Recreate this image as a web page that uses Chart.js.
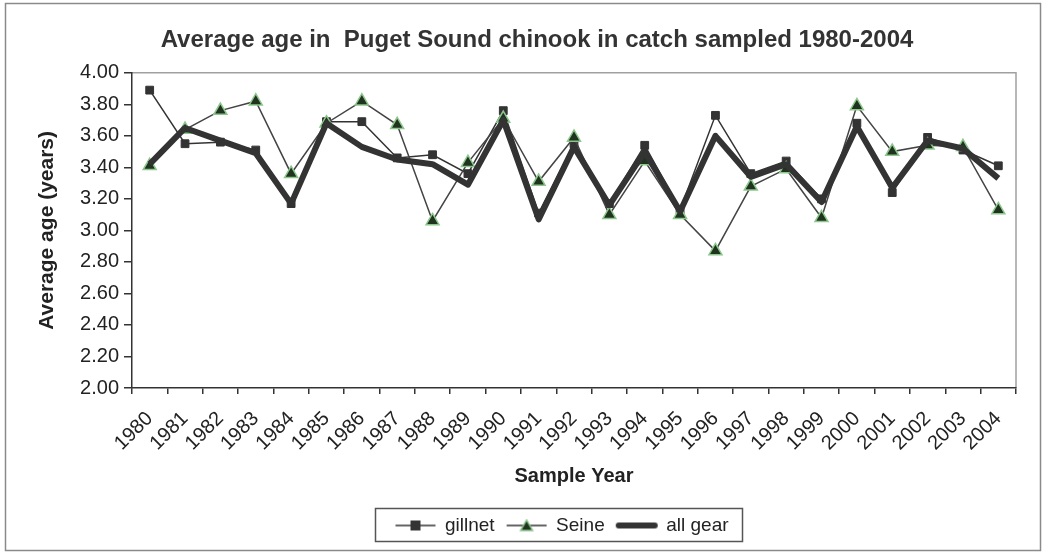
<!DOCTYPE html>
<html>
<head>
<meta charset="utf-8">
<script src="https://cdn.jsdelivr.net/npm/chart.js@4/dist/chart.umd.min.js"></script>
<style>
  html, body { margin: 0; padding: 0; background: #fff; }
  #wrap { width: 1046px; height: 554px; }
</style>
</head>
<body>
<div id="wrap"><canvas id="chart" width="1046" height="554"></canvas></div>
<script>
const years = ['1980', '1981', '1982', '1983', '1984', '1985', '1986', '1987', '1988', '1989', '1990', '1991', '1992',
    '1993', '1994', '1995', '1996', '1997', '1998', '1999', '2000', '2001', '2002', '2003', '2004'];
const gillnet = [3.89, 3.55, 3.56, 3.51, 3.17, 3.69, 3.69, 3.46, 3.48, 3.36, 3.76, 3.11, 3.55,
    3.17, 3.54, 3.13, 3.73, 3.36, 3.44, 3.20, 3.68, 3.24, 3.59, 3.51, 3.41];
const seine = [3.41, 3.64, 3.76, 3.82, 3.36, 3.68, 3.82, 3.67, 3.06, 3.43, 3.71, 3.31, 3.59,
    3.10, 3.44, 3.10, 2.87, 3.28, 3.39, 3.08, 3.79, 3.50, 3.54, 3.53, 3.13];
const allGear = [3.42, 3.65, 3.57, 3.49, 3.17, 3.68, 3.53, 3.45, 3.42, 3.29, 3.70, 3.07, 3.53,
    3.16, 3.50, 3.12, 3.60, 3.34, 3.42, 3.18, 3.66, 3.27, 3.57, 3.52, 3.33];

const ink = '#333333';
const triFill = '#1f331f';
const triEdge = '#8cc68c';
const face = 'Liberation Sans, Arial, sans-serif';

// little line+marker pictures for the legend
function legendIcon(kind) {
    const c = document.createElement('canvas');
    c.width = 44; c.height = 14;
    const g = c.getContext('2d');
    g.strokeStyle = ink;
    if (kind === 'all') {
        g.lineWidth = 6;
        g.lineCap = 'round';
        g.beginPath(); g.moveTo(4, 7); g.lineTo(40, 7); g.stroke();
        return c;
    }
    g.lineWidth = 1.5;
    g.beginPath(); g.moveTo(2, 7); g.lineTo(42, 7); g.stroke();
    if (kind === 'sq') {
        g.fillStyle = ink;
        g.fillRect(17, 2, 10, 10);
    } else {
        g.fillStyle = triFill;
        g.strokeStyle = triEdge;
        g.beginPath(); g.moveTo(22, 1.5); g.lineTo(28, 12); g.lineTo(16, 12); g.closePath();
        g.fill(); g.stroke();
    }
    return c;
}
const icons = [legendIcon('sq'), legendIcon('tri'), legendIcon('all')];

const framePlugin = {
    id: 'frame',
    afterLayout(chart) {
        // legend and title sit a bit right of the canvas centre
        chart.legend.left += 42;
        chart.legend.right += 42;
        chart.titleBlock.left += 17;
        chart.titleBlock.right += 17;
    },
    beforeDraw(chart) {
        const ctx = chart.ctx;
        ctx.save();
        ctx.fillStyle = '#fff';
        ctx.fillRect(0, 0, chart.width, chart.height);
        ctx.strokeStyle = '#8a8a8a';
        ctx.lineWidth = 1.5;
        ctx.strokeRect(5.5, 3.5, 1035, 547);
        const a = chart.chartArea;
        ctx.strokeStyle = '#a0a0a0';
        ctx.lineWidth = 1.5;
        ctx.beginPath();
        ctx.moveTo(a.left, a.top);
        ctx.lineTo(a.right, a.top);
        ctx.lineTo(a.right, a.bottom);
        ctx.stroke();
        ctx.restore();
    },
    afterDraw(chart) {
        const boxes = chart.legend.legendHitBoxes;
        if (!boxes || !boxes.length) return;
        let l = Infinity, r = -Infinity, t = Infinity, b = -Infinity;
        boxes.forEach(h => {
            l = Math.min(l, h.left); r = Math.max(r, h.left + h.width);
            t = Math.min(t, h.top); b = Math.max(b, h.top + h.height);
        });
        const ctx = chart.ctx;
        ctx.save();
        ctx.strokeStyle = '#555';
        ctx.lineWidth = 1.5;
        ctx.strokeRect(Math.round(l - 20) + 0.5, Math.round(t - 8) + 0.5, Math.round(r - l + 34), Math.round(b - t + 14));
        ctx.restore();
    }
};

new Chart(document.getElementById('chart'), {
    type: 'line',
    data: {
        labels: years,
        datasets: [
            {
                label: 'gillnet',
                data: gillnet,
                order: 2,
                borderColor: ink,
                borderWidth: 1.5,
                pointStyle: 'rect',
                pointRadius: 5.5,
                pointBackgroundColor: ink,
                pointBorderColor: ink,
                pointBorderWidth: 1,
                tension: 0
            },
            {
                label: 'Seine',
                data: seine,
                order: 1,
                borderColor: '#444',
                borderWidth: 1.5,
                pointStyle: 'triangle',
                pointRadius: 7.5,
                pointBackgroundColor: triFill,
                pointBorderColor: triEdge,
                pointBorderWidth: 1.5,
                tension: 0
            },
            {
                label: 'all gear',
                data: allGear,
                order: 0,
                borderColor: ink,
                borderWidth: 6,
                pointRadius: 0,
                borderJoinStyle: 'round',
                tension: 0
            }
        ]
    },
    options: {
        responsive: false,
        animation: false,
        layout: { padding: { left: 24, right: 30, top: 10, bottom: 9 } },
        plugins: {
            title: {
                display: true,
                text: 'Average age in  Puget Sound chinook in catch sampled 1980-2004',
                color: ink,
                font: { family: face, size: 24, weight: 'bold' },
                padding: { top: 16, bottom: 18 }
            },
            legend: {
                position: 'bottom',
                labels: {
                    usePointStyle: true,
                    pointStyleWidth: 40,
                    color: '#222',
                    padding: 12,
                    font: { family: face, size: 19 },
                    generateLabels(chart) {
                        return chart.data.datasets.map((ds, i) => ({
                            text: ds.label,
                            pointStyle: icons[i],
                            fillStyle: 'transparent',
                            strokeStyle: 'transparent',
                            lineWidth: 0,
                            fontColor: '#222',
                            datasetIndex: i
                        }));
                    }
                }
            },
            tooltip: { enabled: false }
        },
        scales: {
            x: {
                offset: true,
                grid: { display: true, offset: true, drawOnChartArea: false, drawTicks: true, tickLength: 6, color: ink, lineWidth: 1.5 },
                border: { color: ink, width: 1.5 },
                ticks: {
                    color: '#222',
                    maxRotation: 45,
                    minRotation: 45,
                    autoSkip: false,
                    padding: 13,
                    font: { family: face, size: 20 }
                },
                title: {
                    display: true,
                    text: 'Sample Year',
                    color: '#222',
                    font: { family: face, size: 20, weight: 'bold' },
                    padding: { top: 0, bottom: 16 }
                },
                afterFit(scale) { scale.height = 116; }
            },
            y: {
                min: 2,
                max: 4,
                grid: { display: true, drawOnChartArea: false, drawTicks: true, tickLength: 8, color: ink, lineWidth: 1.5 },
                border: { color: ink, width: 1.5 },
                ticks: {
                    stepSize: 0.2,
                    color: '#222',
                    padding: 5,
                    font: { family: face, size: 20 },
                    callback: v => Number(v).toFixed(2)
                },
                title: {
                    display: true,
                    text: 'Average age (years)',
                    color: '#222',
                    font: { family: face, size: 21, weight: 'bold' },
                    padding: { top: 11, bottom: 4 }
                },
                afterFit(scale) { scale.width = 108; }
            }
        }
    },
    plugins: [framePlugin]
});
</script>
</body>
</html>
